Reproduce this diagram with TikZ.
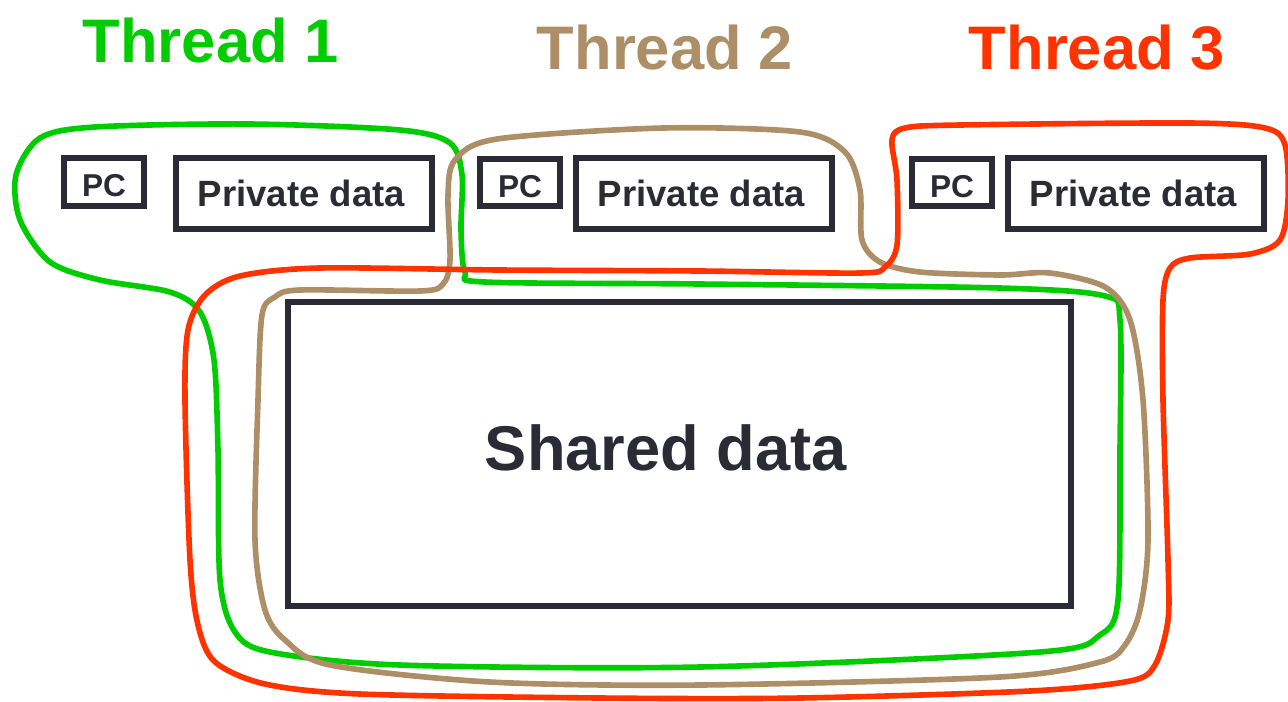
\documentclass[tikz,border=0pt]{standalone}
\usepackage{fontspec}
\setmainfont{Liberation Sans}
\definecolor{tgreen}{RGB}{0,204,0}
\definecolor{ttan}{RGB}{173,142,102}
\definecolor{tred}{RGB}{255,51,0}
\definecolor{boxc}{RGB}{43,43,54}
\tikzset{
  boxnode/.style={draw=boxc, line width=3.4pt, inner sep=0pt, fill=white},
  pcbox/.style={boxnode, minimum width=1.6cm, minimum height=0.95cm},
  privbox/.style={boxnode, minimum width=5.12cm, minimum height=1.42cm},
  pctext/.style={text=boxc, font=\bfseries\fontsize{18}{20}\selectfont, inner sep=0pt},
  privtext/.style={text=boxc, font=\bfseries\fontsize{20.8}{24}\selectfont, inner sep=0pt},
  title/.style={font=\bfseries\fontsize{35}{40}\selectfont, inner sep=0pt, anchor=base},
  loop/.style={line width=3.2pt, line join=round}
}
\begin{document}
\begin{tikzpicture}[x=0.02cm, y=-0.02cm]
\useasboundingbox (0,0) rectangle (1288,701);
\begin{scope}
\clip (0,0) rectangle (1288,701);
% titles
\node[title, text=tgreen] (t1) at (211,62) {Thread 1};
\node[title, text=ttan] (t2) at (665,69) {Thread 2};
\node[title, text=tred] (t3) at (1097,69) {Thread 3};
% boxes
\node[pcbox] (pc1) at (104,182) {};
\node[privbox] (pd1) at (304,193.5) {};
\node[pcbox] (pc2) at (520,182.5) {};
\node[privbox] (pd2) at (704,193.5) {};
\node[pcbox] (pc3) at (952,182.5) {};
\node[privbox] (pd3) at (1136,193.5) {};
\node[boxnode, minimum width=15.66cm, minimum height=6.08cm] (sh) at (679.5,454) {};
% texts
\node[pctext] (pc1t) at ([yshift=-0.08cm]pc1.center) {PC};
\node[pctext] (pc2t) at ([yshift=-0.08cm]pc2.center) {PC};
\node[pctext] (pc3t) at ([yshift=-0.08cm]pc3.center) {PC};
\node[privtext] (pd1t) at ([xshift=-0.05cm]pd1.center) {Private data};
\node[privtext] (pd2t) at ([xshift=-0.05cm]pd2.center) {Private data};
\node[privtext] (pd3t) at ([xshift=-0.05cm]pd3.center) {Private data};
\node[text=boxc, font=\bfseries\fontsize{36}{40}\selectfont, inner sep=0pt] (sht) at (666,448) {Shared data};
% thread 1 (green)
\draw[loop, tgreen] plot[smooth cycle, tension=0.5] coordinates {
 (95,127) (250,124) (400,130) (450,143) (462,175) (461,230) (465,272) (485,282)
 (700,284) (1000,288) (1105,296) (1120,320) (1120,450) (1118,600) (1100,635)
 (1040,652) (700,667) (400,665) (270,652) (235,632) (220,580) (218,450) (214,360)
 (200,312) (170,292) (100,280) (50,262) (20,220) (16,175) (40,138)};
% thread 2 (tan)
\draw[loop, ttan] plot[smooth cycle, tension=0.5] coordinates {
 (497,139) (663,128) (800,132) (845,152) (860,190) (862,240) (880,262) (920,272)
 (1000,275) (1050,273) (1105,287) (1130,320) (1143,400) (1148,540) (1140,610)
 (1125,645) (1100,662) (1000,677) (700,685) (490,682) (330,665) (285,640)
 (265,610) (255,540) (258,400) (262,315) (275,297) (300,290) (420,291) (443,284)
 (450,260) (448,195) (455,160)};
% thread 3 (red)
\draw[loop, tred] plot[smooth cycle, tension=0.5] coordinates {
 (960,125) (1190,123) (1265,128) (1285,145) (1288,200) (1280,240) (1250,254)
 (1190,258) (1170,268) (1163,300) (1163,400) (1168,560) (1168,620) (1155,665)
 (1130,681) (1030,691) (800,698) (600,698) (360,694) (265,684) (215,662)
 (198,625) (190,560) (185,400) (188,330) (205,295) (240,276) (320,268) (500,270)
 (700,271) (860,273) (885,267) (897,245) (897,180) (892,140) (905,128)};
\end{scope}
\end{tikzpicture}
\end{document}
